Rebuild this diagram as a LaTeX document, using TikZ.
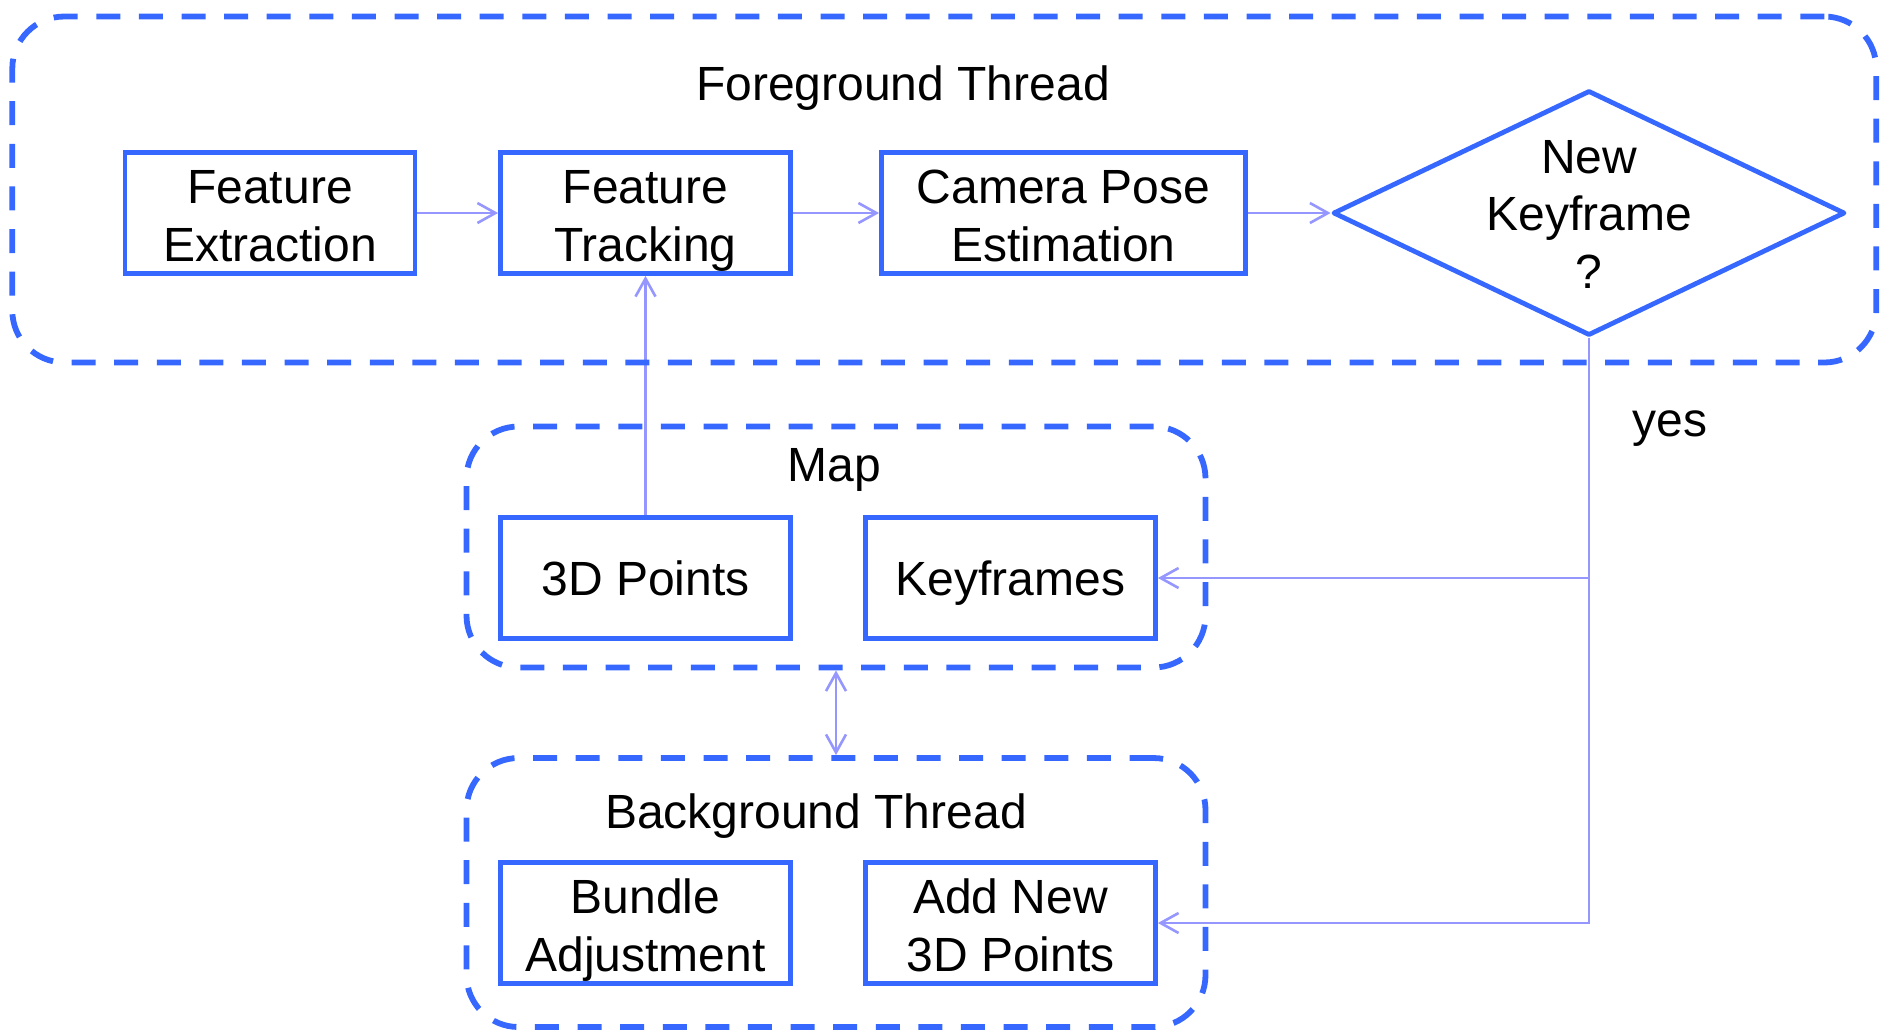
\documentclass[tikz,border=0pt]{standalone}
\usepackage{fontspec}
\setmainfont{Liberation Sans}
\usetikzlibrary{shapes.geometric,arrows.meta,backgrounds}

\definecolor{boxblue}{RGB}{54,104,255}
\definecolor{linkblue}{RGB}{150,150,255}

\begin{document}
\begin{tikzpicture}[x=0.5pt,y=-0.5pt,
  every node/.style={font=\fontsize{24}{28.75}\selectfont, text=black},
  stepbox/.style={draw=boxblue, line width=2.4pt, minimum width=145pt,
    minimum height=60.5pt, align=center, inner sep=0pt, text depth=0pt},
  twoline/.style={text height=48.4pt, text depth=0pt},
  widebox/.style={stepbox, minimum width=182pt},
  decision/.style={diamond, draw=boxblue, line width=2.4pt, line join=round,
    minimum width=256pt, minimum height=122.5pt, inner sep=0pt},
  group/.style={draw=boxblue, line width=2.9pt, dash pattern=on 12pt off 9.3pt,
    rounded corners=26pt, inner sep=0pt},
  link/.style={draw=linkblue, line width=1.3pt, -{Straight Barb[length=9pt,width=10pt]}},
  twoway/.style={draw=linkblue, line width=1.3pt,
    {Straight Barb[length=9pt,width=10pt]}-{Straight Barb[length=9pt,width=10pt]}}
]
\useasboundingbox (0,0) rectangle (1880,1030);

% thread and map containers
\node[group, minimum width=932pt, minimum height=173pt] (fg) at (944.3,189.5) {};
\node[group, minimum width=369.5pt, minimum height=120.5pt] (map) at (836,547) {};
\node[group, minimum width=369.5pt, minimum height=134.5pt] (bg) at (836,892.5) {};

\node at (903,88) {Foreground Thread};
\node at (834.5,469.5) {Map};
\node at (816,816.5) {Background Thread};

% foreground pipeline
\node[stepbox, twoline] (fe) at (270,213) {Feature\\Extraction};
\node[stepbox, twoline] (ft) at (645.5,213) {Feature\\Tracking};
\node[widebox, twoline] (cpe) at (1063.5,213) {Camera Pose\\Estimation};
\node[decision] (kf) at (1589,213) {};
\node[align=center, text depth=0pt] (kftext) at ([yshift=-0.6pt]kf.center) {New\\Keyframe\\?};

% map contents
\node[stepbox] (pts) at (645.5,578) {3D Points};
\node[stepbox] (kfs) at (1010.5,578) {Keyframes};

% background thread contents
\node[stepbox, twoline] (ba) at (645.5,923) {Bundle\\Adjustment};
\node[stepbox, twoline] (anp) at (1010.5,923) {Add New\\3D Points};

\node (yes) at (1670,429) {yes};

\coordinate (split) at (kf.south |- kfs.east);

\begin{pgfonlayer}{background}
  \draw[link] (fe) -- (ft);
  \draw[link] (ft) -- (cpe);
  \draw[link] (cpe) -- (kf.west);
  \draw[link] (pts) -- (ft);
  \draw[link] (kf.south) |- (anp.east);
  \draw[link] (split) -- (kfs.east);
  \draw[twoway] (map.south) -- (bg.north);
\end{pgfonlayer}
\end{tikzpicture}
\end{document}
